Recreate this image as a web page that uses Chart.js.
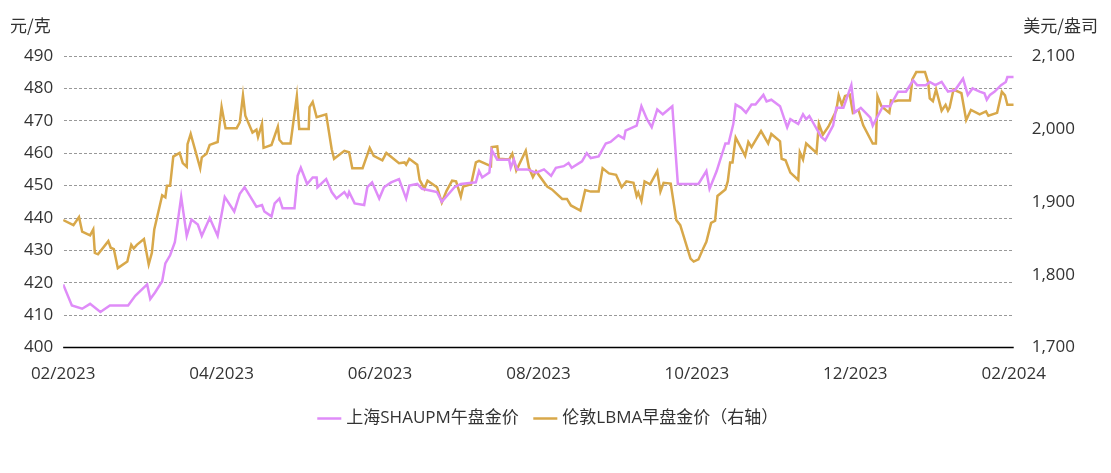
<!DOCTYPE html>
<html>
<head>
<meta charset="utf-8">
<script src="https://cdn.jsdelivr.net/npm/chart.js@4.4.1/dist/chart.umd.min.js"></script>
<style>
  html, body { margin: 0; padding: 0; background: #fff; }
  #wrap { width: 1111px; height: 473px; position: relative; }
</style>
</head>
<body>
<div id="wrap"><canvas id="c"></canvas></div>
<script>
// x = months since 02/2023
const tickLabels = ['02/2023', '04/2023', '06/2023', '08/2023', '10/2023', '12/2023', '02/2024'];

const shMonths = [0,0.11,0.24,0.34,0.47,0.59,0.69,0.82,0.91,1.06,1.10,1.16,1.25,1.29,1.35,1.41,1.49,1.56,1.62,1.70,1.75,1.85,1.95,2.04,2.16,2.23,2.29,2.44,2.51,2.54,2.63,2.67,2.73,2.77,2.92,2.96,3.00,3.08,3.15,3.20,3.21,3.32,3.39,3.45,3.55,3.59,3.61,3.68,3.80,3.84,3.90,3.99,4.05,
  4.14,4.24,4.33,4.37,4.47,4.53,4.72,4.78,4.94,5.02,5.21,5.25,5.29,5.38,5.41,5.48,5.63,5.65,5.69,5.73,5.86,5.97,6.07,6.16,6.22,6.32,6.38,6.42,6.55,6.61,6.66,6.76,6.85,6.91,7.01,7.08,7.10,7.24,7.30,7.37,7.43,7.50,7.57,7.69,7.76,8.02,
  8.12,8.16,8.25,8.36,8.40,8.46,8.49,8.56,8.62,8.69,8.74,8.84,8.88,8.94,9.05,9.14,9.18,9.28,9.34,9.38,9.42,9.57,9.62,9.72,9.76,9.85,9.95,9.99,10.07,10.19,10.22,10.35,10.44,10.54,10.64,10.73,10.78,10.89,10.94,11.01,11.09,11.17,11.26,11.36,11.42,11.48,11.57,11.63,11.66,11.70,11.76,11.84,11.90,11.92,12.00];
const shValues = [419.5,413,412,413.5,411,413,413,413,416,419.5,415,417,420.5,426,428.5,432.5,446.5,434.5,439.5,438,434.5,440,434.5,446.5,442,447.5,449.5,443.5,444,442,440.5,444.5,446,443,443,453,455.5,450.5,452.5,452.5,449.5,452,448,446,448,446.5,448,444.5,444,449.5,451,446,449.5,
  451,452,446,450,450.5,449,448,445,449.5,450.5,451,454.5,452.5,454,461,458,458,455.5,458,455,455,454,455,453,455.5,456,457,455.5,457.5,460,458.5,459,463,463.5,465.5,464.5,467,468.5,474.5,470.5,468,473.5,472,474.5,450.5,450.5,
  454.5,449,454.5,463,463,469,475,474,472.5,475,475,478,476,476.5,474.5,468,470.5,469,472,470.5,471.5,465,464,468.5,474,474,481,472.5,474,471,468.5,474.5,474.5,479,479,482.5,481,481,482,481,482,479,479.5,483,478,480,479,478.5,476.5,478,479,481,482,483.5,483.5];

const lbMonths = [0,0.13,0.20,0.24,0.34,0.38,0.40,0.44,0.57,0.60,0.64,0.69,0.81,0.86,0.89,0.93,1.02,1.08,1.12,1.15,1.25,1.29,1.31,1.35,1.39,1.47,1.51,1.56,1.57,1.61,1.73,1.75,1.81,1.85,1.95,2.00,2.05,2.19,2.23,2.27,2.30,2.39,2.44,2.46,2.51,2.53,2.63,2.71,2.73,2.77,2.87,2.95,2.98,3.10,3.11,3.15,3.20,3.32,3.39,3.42,3.55,3.61,3.65,3.78,3.87,3.92,4.03,
  4.08,4.24,4.31,4.33,4.37,4.47,4.50,4.56,4.60,4.72,4.78,4.84,4.91,4.96,5.02,5.05,5.15,5.21,5.25,5.40,5.41,5.48,5.50,5.63,5.67,5.72,5.84,5.88,5.93,5.97,6.11,6.17,6.30,6.36,6.41,6.53,6.59,6.66,6.76,6.81,6.89,6.98,7.05,7.11,7.20,7.24,7.26,7.30,7.34,7.41,7.50,7.54,7.58,7.67,7.74,7.79,7.92,7.96,8.02,8.08,
  8.12,8.18,8.23,8.26,8.36,8.39,8.42,8.45,8.49,8.61,8.65,8.69,8.81,8.90,8.94,9.05,9.07,9.12,9.18,9.28,9.30,9.34,9.38,9.51,9.54,9.59,9.66,9.76,9.79,9.83,9.87,9.93,9.97,10.04,10.10,10.22,10.26,10.28,10.33,10.43,10.45,10.50,10.54,10.69,10.72,10.77,10.88,10.92,10.94,10.98,11.02,11.09,11.14,11.17,11.19,11.24,11.34,11.40,11.46,11.57,11.65,11.68,11.79,11.85,11.89,11.92,12.00];
const lbValues = [1875,1868,1879,1859,1854,1862,1830,1828,1846,1837,1835,1809,1818,1841,1836,1841,1849,1814,1830,1862,1909,1906,1922,1922,1962,1967,1953,1948,1979,1993,1946,1961,1966,1978,1982,2030,2001,2001,2009,2046,2018,1995,1999,1989,2007,1974,1978,2003,1985,1980,1980,2045,2000,2000,2030,2037,2016,2020,1972,1959,1970,1968,1946,1946,1974,1963,1957,
  1967,1953,1954,1951,1959,1951,1930,1918,1929,1920,1899,1915,1929,1928,1907,1921,1924,1954,1956,1949,1975,1976,1959,1958,1966,1943,1970,1947,1934,1942,1921,1917,1904,1904,1895,1888,1916,1914,1914,1946,1939,1937,1920,1928,1926,1908,1913,1901,1928,1924,1942,1914,1926,1925,1875,1868,1822,1818,1821,1836,
  1845,1871,1874,1908,1917,1928,1954,1954,1988,1963,1982,1975,1997,1980,1993,1983,1959,1957,1940,1930,1968,1958,1980,1967,2007,1992,2003,2025,2046,2033,2045,2047,2022,2026,2005,1980,1980,2045,2031,2022,2039,2038,2039,2039,2068,2078,2078,2064,2042,2038,2054,2025,2033,2025,2029,2054,2049,2012,2026,2020,2024,2018,2022,2051,2046,2033,2033];

const shLabel = '上海SHAUPM午盘金价';
const lbLabel = '伦敦LBMA早盘金价（右轴）';
const FONT = "'Open Sans', 'Noto Sans CJK SC', sans-serif";

const toPts = (xs, ys) => xs.map((x, i) => ({ x, y: ys[i] }));

// axis unit captions above each y axis, plus the solid base line
const captions = {
  id: 'captions',
  afterDraw(chart) {
    const { ctx, chartArea } = chart;
    ctx.save();
    ctx.font = `17px 'Noto Sans CJK SC', sans-serif`;
    ctx.fillStyle = '#333';
    ctx.textBaseline = 'middle';
    ctx.textAlign = 'left';
    ctx.fillText('元/克', 10, 26);
    ctx.textAlign = 'right';
    ctx.fillText('美元/盎司', 1098, 26);
    ctx.strokeStyle = '#000';
    ctx.lineWidth = 1.5;
    ctx.beginPath();
    ctx.moveTo(chartArea.left, chartArea.bottom);
    ctx.lineTo(chartArea.right, chartArea.bottom);
    ctx.stroke();
    ctx.restore();
  },
};

// extra gap between the x tick labels and the legend
const legendGap = {
  id: 'legendGap',
  beforeInit(chart) {
    const fit = chart.legend.fit;
    chart.legend.fit = function () {
      fit.bind(chart.legend)();
      this.height += 12;
    };
  },
};

new Chart(document.getElementById('c'), {
  type: 'line',
  data: {
    datasets: [
      {
        label: shLabel,
        data: toPts(shMonths, shValues),
        borderColor: '#df8cf8',
        backgroundColor: '#df8cf8',
        borderWidth: 2.5,
        pointRadius: 0,
        yAxisID: 'y',
      },
      {
        label: lbLabel,
        data: toPts(lbMonths, lbValues),
        borderColor: '#d8a84a',
        backgroundColor: '#d8a84a',
        borderWidth: 2.5,
        pointRadius: 0,
        yAxisID: 'y1',
      },
    ],
  },
  options: {
    responsive: true,
    maintainAspectRatio: false,
    animation: false,
    layout: { padding: { top: 56, left: 14, right: 26, bottom: 24 } },
    plugins: {
      tooltip: { enabled: false },
      legend: {
        position: 'bottom',
        labels: {
          color: '#333',
          font: { family: FONT, size: 17 },
          usePointStyle: true,
          pointStyle: 'line',
          boxWidth: 40,
          padding: 18,
        },
      },
    },
    scales: {
      x: {
        type: 'linear',
        min: 0,
        max: 12,
        ticks: {
          stepSize: 2,
          color: '#333',
          font: { family: FONT, size: 17 },
          callback: (v) => tickLabels[v / 2] ?? '',
          maxRotation: 0,
          padding: 8,
        },
        grid: { display: false },
        border: { display: false },
      },
      y: {
        position: 'left',
        min: 400,
        max: 490,
        ticks: { stepSize: 10, color: '#333', font: { family: FONT, size: 17 }, padding: 10 },
        grid: { color: '#999', lineWidth: 1, drawTicks: false },
        border: { display: true, color: 'transparent', dash: [3, 2] },
      },
      y1: {
        position: 'right',
        min: 1700,
        max: 2100,
        ticks: {
          stepSize: 100,
          color: '#333',
          font: { family: FONT, size: 17 },
          padding: 10,
          callback: (v) => v.toLocaleString('en-US'),
        },
        grid: { display: false },
        border: { display: false },
      },
    },
  },
  plugins: [captions, legendGap],
});
</script>
</body>
</html>
